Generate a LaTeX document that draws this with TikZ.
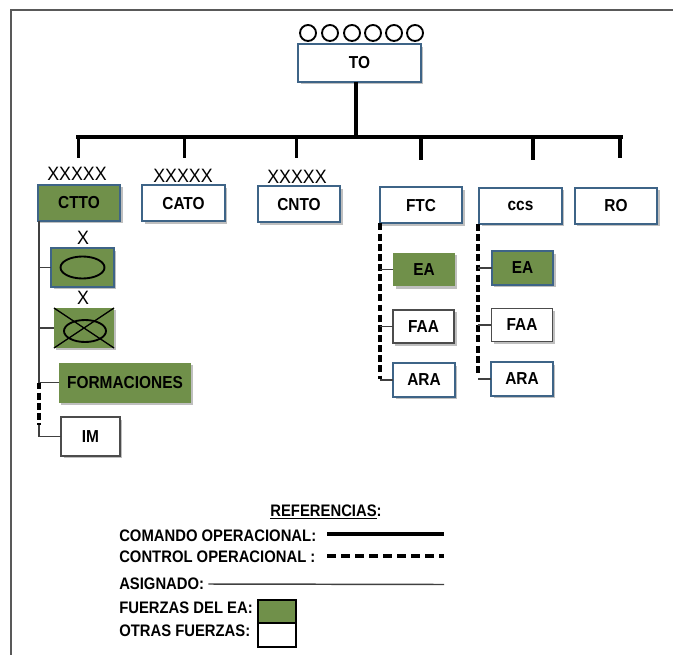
\documentclass[tikz,border=0pt]{standalone}
\usepackage{fontspec}
\setmainfont{Liberation Sans}
\usetikzlibrary{shadows}
\definecolor{greenea}{RGB}{112, 144, 74}
\definecolor{blueedge}{RGB}{62, 100, 135}
\newcommand{\nar}[1]{\scalebox{0.89}[1]{#1}}
\tikzset{
  lbl/.style={font=\fontsize{13}{15}\selectfont\bfseries, inner sep=0pt, outer sep=0pt},
  unit/.style={lbl, fill=white, draw=blueedge, line width=1.5pt, drop shadow={shadow xshift=1.8pt, shadow yshift=-1.8pt, opacity=0.5}},
  unitgray/.style={unit, draw=black!70, line width=1.2pt},
  ownunit/.style={unit, fill=greenea},
  ownplain/.style={ownunit, draw=none},
  bigbox/.style={minimum width=62pt, minimum height=27pt},
  smallbox/.style={minimum width=46pt, minimum height=25pt},
  rank/.style={font=\fontsize{14.5}{16}\selectfont, inner sep=0pt},
  command/.style={line width=2.8pt, black},
  control/.style={line width=2.6pt, black, dash pattern=on 5.2pt off 2.4pt},
  assigned/.style={line width=1.1pt, black!75},
  legend/.style={font=\fontsize{12.5}{14}\selectfont\bfseries, inner sep=0pt, anchor=west},
  swatch/.style={draw=black, line width=1.6pt, minimum width=29pt, minimum height=17.5pt, inner sep=0pt}
}
\begin{document}
\begin{tikzpicture}[x=0.75pt, y=-0.75pt]
\useasboundingbox (0,0) rectangle (673,655);
\draw[black!65, line width=1.1pt] (11,655) -- (11,10) -- (673,10);

\foreach \cx in {308,330,352,373,394,415}
  \draw[black, line width=1.4pt] (\cx,33) circle (8);
\node[unit, minimum width=92pt, minimum height=28pt] (to) at (359.5,63) {\nar{TO}};

\node[ownunit, bigbox] (ctto) at (79,203) {\nar{CTTO}};
\node[unit, bigbox] (cato) at (183.5,203.5) {\nar{CATO}};
\node[unit, bigbox] (cnto) at (299,204.5) {\nar{CNTO}};
\node[unit, bigbox] (ftc) at (421,205.5) {\nar{FTC}};
\node[unit, bigbox] (ccs) at (520.5,206) {\nar{ccs}};
\node[unit, bigbox] (ro) at (616,206) {\nar{RO}};

\node[rank] (rkctto) at (77,174) {\scalebox{0.92}[1]{XXXXX}};
\node[rank] (rkcato) at (183,176) {\scalebox{0.92}[1]{XXXXX}};
\node[rank] (rkcnto) at (297,177) {\scalebox{0.92}[1]{XXXXX}};

\coordinate (barl) at (78,137);
\coordinate (barm) at (356,137);
\coordinate (barr) at (621,137);
\draw[command, line cap=rect] (barl) -- (barr);
\draw[command] (to.south -| barm) -- (barm);
\foreach \nm/\cx/\cy in {a/78.5/158, b/184.5/158, c/296.5/158, d/421/160, e/533/160, f/620/158} {
  \coordinate (drop\nm) at (\cx,\cy);
  \draw[command] (barm -| drop\nm) -- (drop\nm);
}

% mando de teatro
\node[rank] (rkbri) at (83,238) {\scalebox{0.92}[1]{X}};
\node[ownunit, minimum width=47pt, minimum height=29pt] (bri) at (82.5,267.5) {};
\draw[black, line width=1.4pt] (bri.center) ellipse (22 and 11);
\node[rank] (rkcab) at (83,298) {\scalebox{0.92}[1]{X}};
\node[ownplain, minimum width=45pt, minimum height=30pt] (cab) at (84,328) {};
\draw[black, line width=1pt] (cab.north west) -- (cab.south east);
\draw[black, line width=1pt] (cab.south west) -- (cab.north east);
\draw[black, line width=1.4pt] (85,331) ellipse (21 and 11);
\node[ownplain, minimum width=99pt, minimum height=30pt] (form) at (125,382.5) {\nar{FORMACIONES}};
\node[unitgray, minimum width=44pt, minimum height=29pt] (im) at (90.5,436.5) {\nar{IM}};

\coordinate (trunka) at (39,382.5);
\draw[assigned, line width=1.3pt] (ctto.south -| trunka) -- (trunka);
\draw[assigned] (bri.west) -- (bri.west -| trunka);
\draw[assigned] (cab.west) -- (cab.west -| trunka);
\draw[assigned] (form.west) -- (trunka);
\draw[control] (trunka) -- (39,425);
\draw[assigned, line width=1.4pt] (im.west) -- (im.west -| trunka) -- (39,425);

% fuerzas de tareas
\node[ownplain, smallbox] (eaf) at (424,269.5) {\nar{EA}};
\node[unitgray, smallbox] (faaf) at (423.5,326.5) {\nar{FAA}};
\node[unit, smallbox] (araf) at (424,380) {\nar{ARA}};
\coordinate (trunkb) at (380,379);
\draw[control] (ftc.south -| trunkb) -- (trunkb);
\draw[assigned] (eaf.west) -- (eaf.west -| trunkb);
\draw[assigned] (faaf.west) -- (faaf.west -| trunkb);
\draw[assigned] (araf.west) -- (araf.west -| trunkb);

\node[ownunit, smallbox] (eac) at (522.5,268) {\nar{EA}};
\node[unitgray, smallbox] (faac) at (522,325) {\nar{FAA}};
\node[unit, smallbox] (arac) at (522,379) {\nar{ARA}};
\coordinate (trunkc) at (478,375);
\draw[control] (ccs.south -| trunkc) -- (trunkc);
\draw[assigned] (eac.west) -- (eac.west -| trunkc);
\draw[assigned] (faac.west) -- (faac.west -| trunkc);
\draw[assigned] (arac.west) -- (arac.west -| trunkc);

% referencias
\node[legend, anchor=center] (refs) at (326,512) {\nar{\underline{REFERENCIAS}:}};
\node[legend] (lgcom) at (119,536) {\nar{COMANDO OPERACIONAL:}};
\node[legend] (lgctl) at (119,557) {\nar{CONTROL OPERACIONAL :}};
\node[legend] (lgasg) at (119,584) {\nar{ASIGNADO:}};
\node[legend] (lgown) at (119,608) {\nar{FUERZAS DEL EA:}};
\node[legend] (lgoth) at (119,631) {\nar{OTRAS FUERZAS:}};

\coordinate (comstart) at (327,534);
\coordinate (comend) at (444,534);
\coordinate (ctlstart) at (327,556);
\coordinate (ctlend) at (444,556);
\coordinate (asgend) at (444,584.5);
\draw[command] (comstart) -- (comend);
\draw[control, dash pattern=on 7pt off 3.5pt] (ctlstart) -- (ctlend);
\draw[assigned] ([xshift=3pt]lgasg.east) -- (asgend);

\node[swatch, fill=greenea] (swown) at (277,611.5) {};
\node[swatch, fill=white] (swoth) at (277,635) {};
\end{tikzpicture}
\end{document}
